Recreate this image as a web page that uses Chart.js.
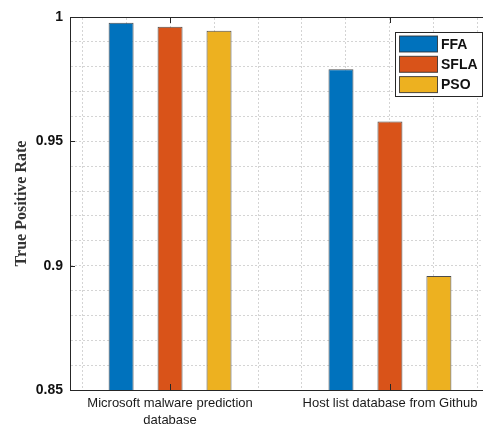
<!DOCTYPE html>
<html>
<head>
<meta charset="utf-8">
<script src="https://cdn.jsdelivr.net/npm/chart.js@4/dist/chart.umd.min.js"></script>
<style>
html,body{margin:0;padding:0;background:#fff;overflow:hidden;}
#wrap{width:483px;height:429px;overflow:hidden;position:relative;}
canvas{display:block;}
</style>
</head>
<body>
<div id="wrap"><canvas id="c" width="495" height="429"></canvas></div>
<script>
// ---- data ----
const categories = [["Microsoft malware prediction", "database"], ["Host list database from Github"]];
const seriesNames = ["FFA", "SFLA", "PSO"];
const ffaValues  = [0.9977, 0.979];
const sflaValues = [0.9961, 0.958];
const psoValues  = [0.9945, 0.8958];
const yTickValues = [0.85, 0.9, 0.95, 1];
const yTickLabels = ["0.85", "0.9", "0.95", "1"];
const seriesColors = ["#0072BD", "#D95319", "#EDB120"];

const seriesValues = [ffaValues, sflaValues, psoValues];
const datasets = seriesNames.map((name, k) => ({
  label: name,
  data: seriesValues[k].map((v, i) => ({x: i + 1, y: v})),
  backgroundColor: seriesColors[k],
  borderColor: 'rgba(45,45,45,0.85)',
  borderWidth: 1,
  borderSkipped: false,
  categoryPercentage: 0.668,
  barPercentage: 0.51
}));

const axisColor = '#262626';

const decorPlugin = {
  id: 'decor',
  afterDatasetsDraw(chart) {
    const ctx = chart.ctx, a = chart.chartArea;
    const xs = chart.scales.x, ys = chart.scales.y;
    ctx.save();
    ctx.strokeStyle = axisColor;
    ctx.lineWidth = 1;
    ctx.beginPath();
    yTickValues.forEach(v => {
      const py = Math.round(ys.getPixelForValue(v)) + 0.5;
      ctx.moveTo(a.left, py); ctx.lineTo(a.left + 5, py);
    });
    categories.forEach((c, i) => {
      const px = Math.round(xs.getPixelForValue(i + 1)) + 0.5;
      ctx.moveTo(px, a.bottom); ctx.lineTo(px, a.bottom - 6);
      ctx.moveTo(px, a.top); ctx.lineTo(px, a.top + 6);
    });
    ctx.stroke();
    const bx = 395.5, by = 32.5, bw = 87, bh = 64;
    ctx.fillStyle = '#fff';
    ctx.fillRect(bx, by, bw, bh);
    ctx.strokeStyle = axisColor;
    ctx.strokeRect(bx, by, bw, bh);
    ctx.font = 'bold 14px "Liberation Sans", Arial, sans-serif';
    ctx.textBaseline = 'middle';
    chart.data.datasets.forEach((ds, k) => {
      const cy = 44 + k * 20.3;
      ctx.fillStyle = ds.backgroundColor;
      ctx.fillRect(399.5, cy - 8, 38, 16);
      ctx.strokeStyle = 'rgba(45,45,45,0.85)';
      ctx.strokeRect(399.5, cy - 8, 38, 16);
      ctx.fillStyle = '#111';
      ctx.fillText(ds.label, 441, cy + 1);
    });
    ctx.restore();
  }
};

new Chart(document.getElementById('c'), {
  type: 'bar',
  data: { datasets },
  plugins: [decorPlugin],
  options: {
    responsive: false,
    animation: false,
    layout: { padding: { top: 17, right: 5, left: 0, bottom: 0 } },
    plugins: { legend: { display: false }, tooltip: { enabled: false } },
    scales: {
      x: {
        type: 'linear',
        position: 'bottom',
        offset: false,
        min: 0.545, max: 2.455,
        afterBuildTicks: s => { s.ticks = categories.map((c, i) => ({ value: i + 1 })); },
        afterFit: s => { s.height = 39; },
        grid: { display: false, drawTicks: false, offset: false },
        border: { display: true, color: axisColor, width: 1 },
        ticks: {
          padding: 4,
          autoSkip: false,
          maxRotation: 0,
          color: '#1a1a1a',
          font: { family: '"Liberation Sans", Arial, sans-serif', size: 13, lineHeight: 1.38 },
          callback: (v) => { const i = Math.round(v) - 1; return categories[i] || ''; }
        }
      },
      xg: {
        type: 'linear',
        position: 'top',
        offset: false,
        min: 0.545, max: 2.455,
        afterBuildTicks: s => {
          const t = [];
          for (let k = 3; k <= 12; k++) t.push({ value: k / 5 });
          s.ticks = t;
        },
        grid: { display: true, drawTicks: false, offset: false, color: 'rgba(0,0,0,0.17)', lineWidth: 1 },
        border: { display: true, color: axisColor, width: 1, dash: [2, 2] },
        ticks: { display: false }
      },
      y: {
        min: 0.85, max: 1,
        afterFit: s => { s.width = 70; },
        afterBuildTicks: s => {
          const t = [];
          for (let k = 85; k <= 100; k++) t.push({ value: k / 100 });
          s.ticks = t;
        },
        grid: { display: true, drawTicks: false, color: 'rgba(0,0,0,0.17)', lineWidth: 1 },
        border: { display: true, color: axisColor, width: 1, dash: [2, 2] },
        ticks: {
          padding: 7,
          color: '#111',
          font: { family: '"Liberation Sans", Arial, sans-serif', size: 14, weight: 'bold' },
          callback: (v) => {
            const i = yTickValues.findIndex(t => Math.abs(t - v) < 1e-6);
            return i >= 0 ? yTickLabels[i] : '';
          }
        },
        title: {
          display: true,
          text: 'True Positive Rate',
          color: '#333',
          padding: { top: 12, bottom: 0 },
          font: { family: '"Liberation Serif", "Times New Roman", serif', size: 16, weight: 'bold' }
        }
      }
    }
  }
});
</script>
</body>
</html>
